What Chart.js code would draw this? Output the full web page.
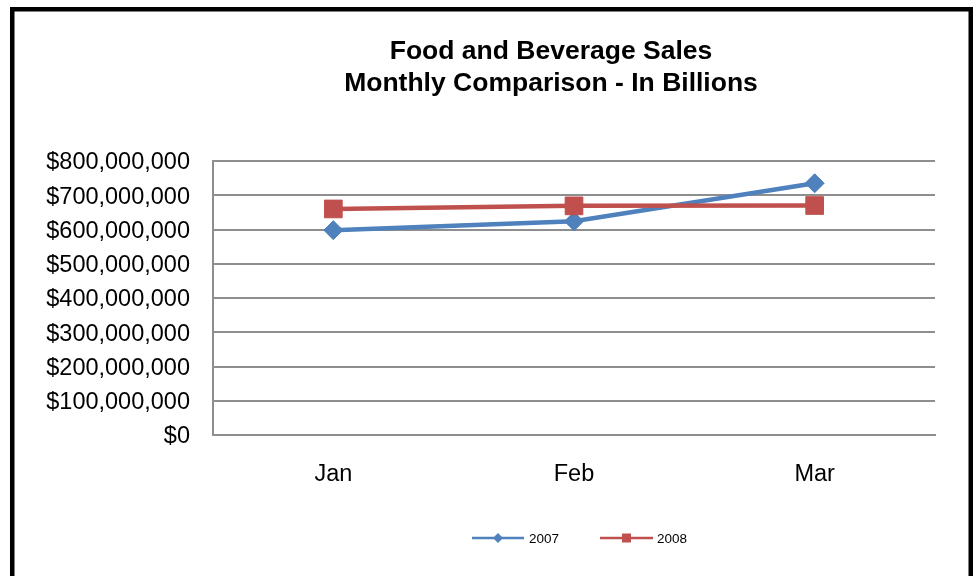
<!DOCTYPE html>
<html>
<head>
<meta charset="utf-8">
<title>Food and Beverage Sales</title>
<script src="https://cdn.jsdelivr.net/npm/chart.js@4/dist/chart.umd.min.js"></script>
<style>
  html, body { margin: 0; padding: 0; background: #ffffff; }
  #wrap { position: relative; width: 977px; height: 576px; }
</style>
</head>
<body>
<div id="wrap"><canvas id="chart" width="977" height="576"></canvas></div>
<script>
// ---- data ----
const categories = ['Jan', 'Feb', 'Mar'];
const seriesNames = ['2007', '2008'];
const sales2007 = [598000000, 624000000, 735000000];
const sales2008 = [660000000, 669000000, 670000000];
const titleLines = ['Food and Beverage Sales', 'Monthly Comparison - In Billions'];
const yMin = 0;
const yMax = 800000000;
const yStep = 100000000;

// ---- styling ----
const BLUE = '#4F81BD';
const RED = '#C0504D';
const GRID = '#8e8e8e';
const FONT = '"Liberation Sans", Arial, sans-serif';

function money(v) {
  return '$' + Math.round(v).toLocaleString('en-US');
}

// Frame, title and legend.
const frame = {
  id: 'frame',
  beforeDraw(chart) {
    const ctx = chart.ctx;
    ctx.save();
    ctx.fillStyle = '#ffffff';
    ctx.fillRect(0, 0, chart.width, chart.height);
    ctx.fillStyle = '#000000';
    ctx.fillRect(10, 7, 4.5, chart.height);
    ctx.fillRect(10, 7, 963, 4.5);
    ctx.fillRect(968.5, 7, 4.5, chart.height);
    ctx.restore();
  },
  afterDraw(chart) {
    const ctx = chart.ctx;
    ctx.save();
    // title
    ctx.fillStyle = '#000000';
    ctx.font = 'bold 26.5px ' + FONT;
    ctx.textAlign = 'center';
    ctx.textBaseline = 'alphabetic';
    const baselines = [58.5, 90.5];
    titleLines.forEach((line, i) => ctx.fillText(line, 551, baselines[i]));
    // legend
    const ly = 538;
    const items = [
      { x0: 472, x1: 524, tx: 529, ds: chart.data.datasets[0], shape: 'diamond' },
      { x0: 600, x1: 653, tx: 657, ds: chart.data.datasets[1], shape: 'square' }
    ];
    ctx.font = '13.5px ' + FONT;
    ctx.textAlign = 'left';
    ctx.textBaseline = 'middle';
    items.forEach(it => {
      const c = it.ds.borderColor;
      ctx.strokeStyle = c;
      ctx.lineWidth = 2.5;
      ctx.beginPath();
      ctx.moveTo(it.x0, ly);
      ctx.lineTo(it.x1, ly);
      ctx.stroke();
      const cx = (it.x0 + it.x1) / 2;
      ctx.fillStyle = c;
      ctx.beginPath();
      if (it.shape === 'diamond') {
        ctx.moveTo(cx - 5, ly);
        ctx.lineTo(cx, ly - 5);
        ctx.lineTo(cx + 5, ly);
        ctx.lineTo(cx, ly + 5);
        ctx.closePath();
      } else {
        ctx.rect(cx - 4.5, ly - 4.5, 9, 9);
      }
      ctx.fill();
      ctx.fillStyle = '#000000';
      ctx.fillText(it.ds.label, it.tx, ly + 1);
    });
    ctx.restore();
  }
};

new Chart(document.getElementById('chart'), {
  type: 'line',
  data: {
    labels: categories,
    datasets: [
      {
        label: seriesNames[0],
        data: sales2007,
        borderColor: BLUE,
        backgroundColor: BLUE,
        borderWidth: 4.5,
        pointStyle: 'rectRot',
        pointRadius: 9.5,
        pointBorderWidth: 1,
        pointBackgroundColor: BLUE,
        pointBorderColor: BLUE,
        tension: 0,
        order: 2
      },
      {
        label: seriesNames[1],
        data: sales2008,
        borderColor: RED,
        backgroundColor: RED,
        borderWidth: 4.5,
        pointStyle: 'rect',
        pointRadius: 12.5,
        pointBorderWidth: 1,
        pointBackgroundColor: RED,
        pointBorderColor: RED,
        tension: 0,
        order: 1
      }
    ]
  },
  options: {
    responsive: false,
    animation: false,
    devicePixelRatio: 1,
    layout: { padding: { top: 161, right: 42, bottom: 91, left: 0 } },
    plugins: {
      legend: { display: false },
      title: { display: false },
      tooltip: { enabled: false }
    },
    scales: {
      x: {
        offset: true,
        grid: { display: false, drawTicks: false },
        border: { display: true, color: GRID, width: 2 },
        ticks: {
          color: '#000000',
          font: { family: FONT, size: 23.5 },
          padding: 25,
          maxRotation: 0
        },
        afterFit(scale) { scale.height = 50; }
      },
      y: {
        min: yMin,
        max: yMax,
        grid: { color: GRID, lineWidth: 2, drawTicks: false },
        border: { display: true, color: GRID, width: 2 },
        ticks: {
          stepSize: yStep,
          color: '#000000',
          font: { family: FONT, size: 23.5 },
          padding: 23,
          labelOffset: 2,
          callback: v => money(v)
        },
        afterFit(scale) { scale.width = 213; }
      }
    }
  },
  plugins: [frame]
});
</script>
</body>
</html>
